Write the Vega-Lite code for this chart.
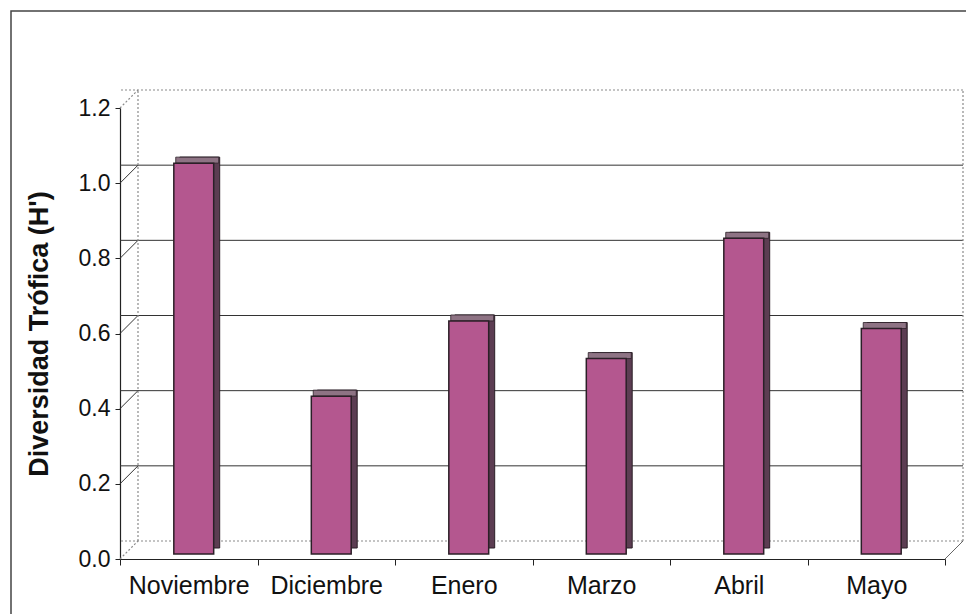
{
  "$schema": "https://vega.github.io/schema/vega-lite/v6.json",
  "width": 825,
  "height": 451,
  "autosize": {"type": "none"},
  "padding": {"left": 120, "top": 108, "right": 21, "bottom": 55},
  "background": "#ffffff",
  "config": {
    "view": {"stroke": null},
    "font": "Liberation Sans"
  },
  "datasets": {
    "diversidad": [
      {"mes": "Noviembre", "H": 1.04},
      {"mes": "Diciembre", "H": 0.42},
      {"mes": "Enero", "H": 0.62},
      {"mes": "Marzo", "H": 0.52},
      {"mes": "Abril", "H": 0.84},
      {"mes": "Mayo", "H": 0.6}
    ],
    "rejilla": [{"v": 0.2}, {"v": 0.4}, {"v": 0.6}, {"v": 0.8}, {"v": 1.0}],
    "bordes": [{"v": 0.0}, {"v": 1.2}]
  },
  "layer": [
    {
      "description": "Outer border of the chart area",
      "data": {"values": [{}]},
      "mark": {"type": "rect", "fill": null, "stroke": "#444", "strokeWidth": 1.5, "clip": false},
      "encoding": {
        "x": {"value": -109},
        "y": {"value": -97},
        "x2": {"value": 870},
        "y2": {"value": 520}
      }
    },
    {
      "description": "Back-wall gridlines, drawn behind the bars with a depth shift",
      "data": {"name": "rejilla"},
      "mark": {"type": "rule", "color": "#333", "strokeWidth": 1, "xOffset": 18, "x2Offset": 18, "yOffset": -18},
      "encoding": {
        "y": {
          "field": "v",
          "type": "quantitative",
          "scale": {"domain": [0, 1.2], "nice": false, "zero": true},
          "axis": {
            "title": "Diversidad Trófica (H')",
            "titleFontSize": 27,
            "titleFontWeight": "bold",
            "titleColor": "#111",
            "titlePadding": 25,
            "values": [0, 0.2, 0.4, 0.6, 0.8, 1.0, 1.2],
            "format": ".1f",
            "labelFontSize": 23,
            "labelColor": "#111",
            "labelPadding": 5,
            "tickSize": 5,
            "tickColor": "#222",
            "domainColor": "#222",
            "domainWidth": 1.2,
            "grid": false
          }
        }
      }
    },
    {
      "description": "Top edge and floor edge of the back wall",
      "data": {"name": "bordes"},
      "mark": {"type": "rule", "color": "#8a8a8a", "strokeWidth": 1.2, "strokeDash": [2, 2], "xOffset": 18, "x2Offset": 18, "yOffset": -18},
      "encoding": {"y": {"field": "v", "type": "quantitative"}}
    },
    {
      "description": "Side-wall links from the value axis to the back wall",
      "data": {"name": "rejilla"},
      "mark": {"type": "rule", "color": "#333", "strokeWidth": 1, "x2Offset": 18, "y2Offset": -18},
      "encoding": {
        "x": {"datum": "Noviembre", "bandPosition": 0},
        "x2": {"datum": "Noviembre", "bandPosition": 0},
        "y": {"field": "v", "type": "quantitative"},
        "y2": {"field": "v"}
      }
    },
    {
      "data": {"name": "bordes"},
      "mark": {"type": "rule", "color": "#8a8a8a", "strokeWidth": 1.2, "strokeDash": [2, 2], "x2Offset": 18, "y2Offset": -18},
      "encoding": {
        "x": {"datum": "Noviembre", "bandPosition": 0},
        "x2": {"datum": "Noviembre", "bandPosition": 0},
        "y": {"field": "v", "type": "quantitative"},
        "y2": {"field": "v"}
      }
    },
    {
      "description": "Left vertical edge of the back wall",
      "data": {"values": [{}]},
      "mark": {"type": "rule", "color": "#8a8a8a", "strokeWidth": 1.2, "strokeDash": [2, 2], "xOffset": 18, "yOffset": -18, "y2Offset": -18},
      "encoding": {
        "x": {"datum": "Noviembre", "bandPosition": 0},
        "y": {"datum": 0},
        "y2": {"datum": 1.2}
      }
    },
    {
      "description": "Right vertical edge of the back wall",
      "data": {"values": [{}]},
      "mark": {"type": "rule", "color": "#8a8a8a", "strokeWidth": 1.2, "strokeDash": [2, 2], "xOffset": 18, "yOffset": -18, "y2Offset": -18},
      "encoding": {
        "x": {"datum": "Mayo", "bandPosition": 1},
        "y": {"datum": 0},
        "y2": {"datum": 1.2}
      }
    },
    {
      "description": "Right edge of the floor",
      "data": {"values": [{}]},
      "mark": {"type": "rule", "color": "#666", "strokeWidth": 1, "x2Offset": 18, "y2Offset": -18},
      "encoding": {
        "x": {"datum": "Mayo", "bandPosition": 1},
        "x2": {"datum": "Mayo", "bandPosition": 1},
        "y": {"datum": 0},
        "y2": {"datum": 0}
      }
    },
    {
      "description": "Side face of each column (a copy pushed back in depth)",
      "data": {"name": "diversidad"},
      "mark": {"type": "bar", "width": {"band": 0.29}, "fill": "#5c3d52", "stroke": "#2b1f27", "strokeWidth": 1, "xOffset": 11, "x2Offset": 11, "yOffset": -11, "y2Offset": -11},
      "encoding": {
        "x": {
          "field": "mes",
          "type": "nominal",
          "sort": null,
          "scale": {"domain": ["Noviembre", "Diciembre", "Enero", "Marzo", "Abril", "Mayo"], "paddingInner": 0, "paddingOuter": 0},
          "axis": {
            "title": null,
            "bandPosition": 0.5,
            "labelAngle": 0,
            "labelAlign": "center",
            "labelFontSize": 25,
            "labelColor": "#111",
            "labelPadding": 20,
            "tickBand": "extent",
            "tickSize": 6,
            "tickColor": "#222",
            "domainColor": "#222",
            "domainWidth": 1.2,
            "grid": false
          }
        },
        "y": {"field": "H", "type": "quantitative"}
      }
    },
    {
      "description": "Top face of each column",
      "data": {"name": "diversidad"},
      "mark": {"type": "bar", "width": {"band": 0.313}, "fill": "#8e7384", "stroke": "#2b1f27", "strokeWidth": 0.8, "xOffset": 8.5, "x2Offset": 8.5, "yOffset": -11, "y2Offset": -5},
      "encoding": {
        "x": {"field": "mes", "type": "nominal", "sort": null},
        "y": {"field": "H", "type": "quantitative"},
        "y2": {"field": "H"}
      }
    },
    {
      "description": "Front face of each column",
      "data": {"name": "diversidad"},
      "mark": {"type": "bar", "width": {"band": 0.29}, "fill": "#b4578f", "stroke": "#2b1f27", "strokeWidth": 1.5, "xOffset": 5, "x2Offset": 5, "yOffset": -5, "y2Offset": -5},
      "encoding": {
        "x": {"field": "mes", "type": "nominal", "sort": null},
        "y": {"field": "H", "type": "quantitative"}
      }
    }
  ]
}
